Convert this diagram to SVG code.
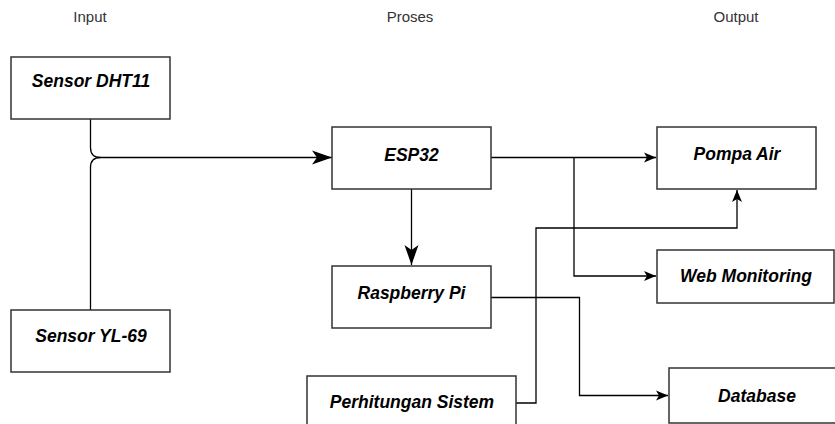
<svg xmlns="http://www.w3.org/2000/svg" width="835" height="424" viewBox="0 0 835 424">
<style>
.box{fill:#fff;stroke:#333;stroke-width:1.5}
.lbl{font-family:"Liberation Sans",Arial,sans-serif;font-size:17.5px;font-weight:bold;font-style:italic;fill:#000;text-anchor:middle}
.hdr{font-family:"Liberation Sans",Arial,sans-serif;font-size:15px;fill:#333;text-anchor:middle}
.con{fill:none;stroke:#000;stroke-width:1.3}
</style>
<defs>
<marker id="big" markerUnits="userSpaceOnUse" markerWidth="22" markerHeight="16" refX="20" refY="7" orient="auto" viewBox="0 0 22 14">
<path d="M0,0 L20,7 L0,14 L5,7 Z" fill="#000"/>
</marker>
<marker id="sm" markerUnits="userSpaceOnUse" markerWidth="13" markerHeight="11" refX="12" refY="5" orient="auto" viewBox="0 0 13 10">
<path d="M0,0 L12,5 L0,10 L3,5 Z" fill="#000"/>
</marker>
</defs>
<rect width="835" height="424" fill="#fff"/>
<text class="hdr" x="90" y="22">Input</text>
<text class="hdr" x="410" y="22">Proses</text>
<text class="hdr" x="736" y="22">Output</text>
<g id="connectors">
<path class="con" d="M90.5,119 V147.5 Q90.5,157.5 100.5,157.5 H332" marker-end="url(#big)"/>
<path class="con" d="M90.5,310 V167.5 Q90.5,157.5 100.5,157.5"/>
<path class="con" d="M411.5,189 V265" marker-end="url(#big)"/>
<path class="con" d="M491,157.5 H656" marker-end="url(#sm)"/>
<path class="con" d="M574,157.5 V276 H656" marker-end="url(#sm)"/>
<path class="con" d="M491,297.5 H579.5 V395.5 H668" marker-end="url(#sm)"/>
<path class="con" d="M516,403 H536 V228 H737 V190" marker-end="url(#sm)"/>
</g>
<g id="dht11"><rect class="box" x="11" y="57" width="159" height="62"/><text class="lbl" x="91" y="87">Sensor DHT11</text></g>
<g id="yl69"><rect class="box" x="11" y="310" width="159" height="62"/><text class="lbl" x="91" y="342">Sensor YL-69</text></g>
<g id="esp32"><rect class="box" x="332" y="127" width="159" height="62"/><text class="lbl" x="411.5" y="161">ESP32</text></g>
<g id="raspberry"><rect class="box" x="332" y="266" width="159" height="62"/><text class="lbl" x="411.5" y="299">Raspberry Pi</text></g>
<g id="perhitungan"><rect class="box" x="307" y="376" width="209" height="60"/><text class="lbl" x="412" y="408">Perhitungan Sistem</text></g>
<g id="pompa"><rect class="box" x="657" y="127" width="159" height="62"/><text class="lbl" x="737" y="160">Pompa Air</text></g>
<g id="web"><rect class="box" x="657" y="250" width="177" height="53"/><text class="lbl" x="746" y="282">Web Monitoring</text></g>
<g id="database"><rect class="box" x="669" y="368" width="177" height="55"/><text class="lbl" x="757" y="402">Database</text></g>
</svg>
